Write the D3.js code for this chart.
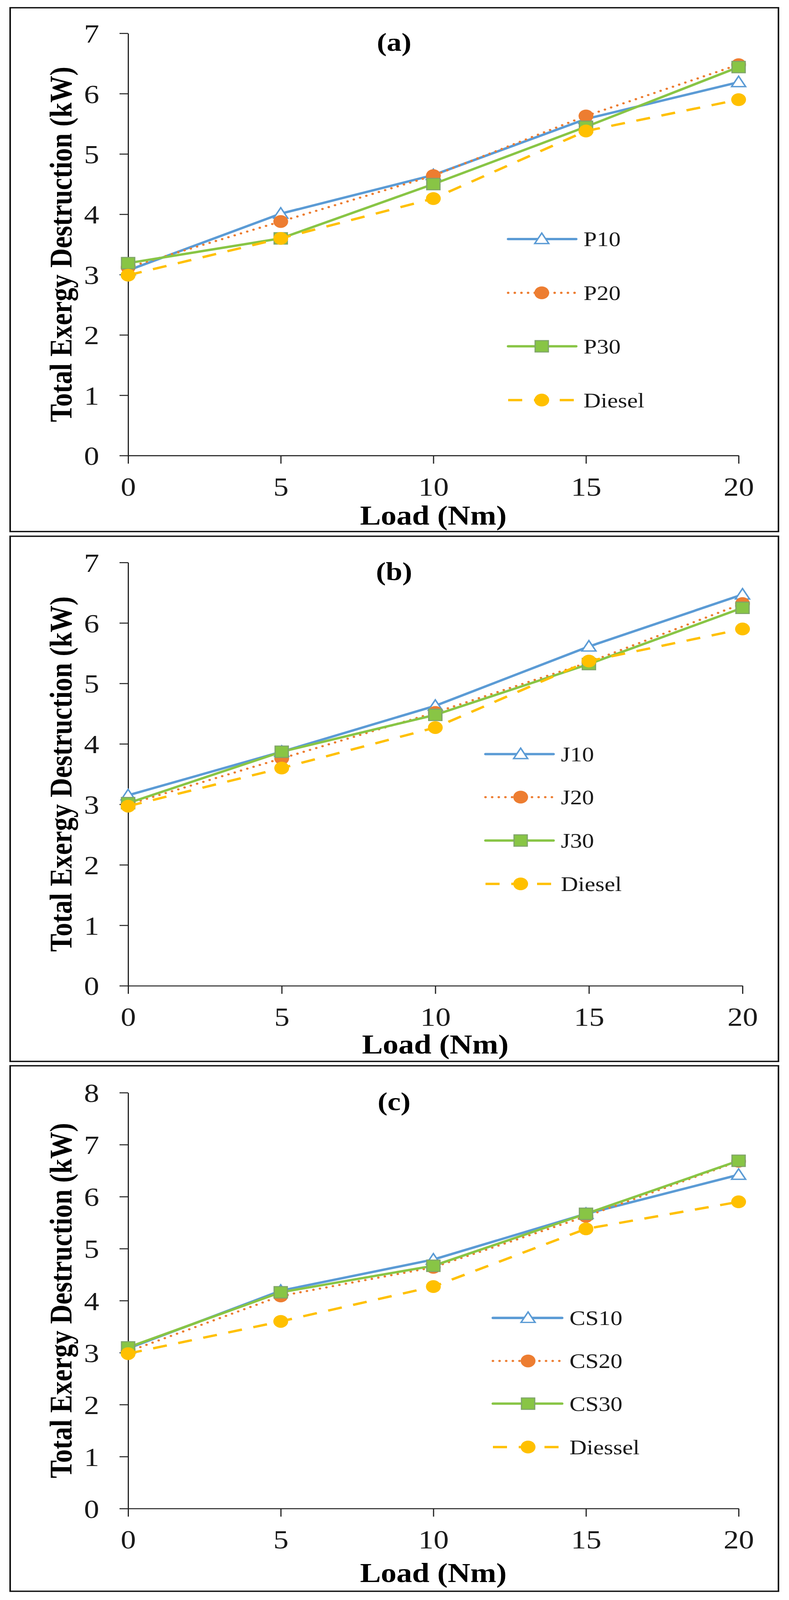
<!DOCTYPE html>
<html>
<head>
<meta charset="utf-8">
<script src="https://cdn.jsdelivr.net/npm/d3@7"></script>
<style>
    html, body { margin: 0; padding: 0; background: #fff; overflow: hidden; }
    svg { display: block; }
</style>
</head>
<body>
<svg id="canvas"></svg>
<script>
// data
const loads = [0, 5, 10, 15, 20];

const namesA = ['P10', 'P20', 'P30', 'Diesel'];
const p10 = [3.07, 4.01, 4.65, 5.58, 6.19];
const p20 = [3.12, 3.88, 4.64, 5.63, 6.48];
const p30 = [3.19, 3.60, 4.50, 5.45, 6.44];
const dieselA = [2.99, 3.60, 4.26, 5.38, 5.90];

const namesB = ['J10', 'J20', 'J30', 'Diesel'];
const j10 = [3.15, 3.87, 4.63, 5.61, 6.47];
const j20 = [3.00, 3.76, 4.52, 5.35, 6.32];
const j30 = [3.02, 3.87, 4.48, 5.32, 6.25];
const dieselB = [2.97, 3.60, 4.27, 5.37, 5.90];

const namesC = ['CS10', 'CS20', 'CS30', 'Diessel'];
const cs10 = [3.08, 4.19, 4.79, 5.67, 6.42];
const cs20 = [3.02, 4.09, 4.64, 5.62, 6.68];
const cs30 = [3.10, 4.16, 4.67, 5.67, 6.69];
const dieselC = [2.98, 3.60, 4.27, 5.38, 5.90];

const yTicksA = [0, 1, 2, 3, 4, 5, 6, 7];
const yTicksC = [0, 1, 2, 3, 4, 5, 6, 7, 8];

// the drawing is laid out on a 2020 x 4759 sheet, then fitted to the window
const width = 2020;
const height = 4759;
const serif = '"Liberation Serif", "Times New Roman", serif';

// one style per series slot (same in every panel)
const styles = [
    { color: '#5B9BD5', dash: null, cap: 'round', marker: 'triangle', w: 7 },
    { color: '#ED7D31', dash: '0,17', cap: 'round', marker: 'circle', w: 6.5 },
    { color: '#88C545', dash: null, cap: 'round', marker: 'square', w: 7 },
    { color: '#FFC000', dash: '36,30', cap: 'butt', marker: 'circle', w: 7 }
];

const panels = [
    {
        label: '(a)', names: namesA, series: [p10, p20, p30, dieselA], yMax: 7, yTicks: yTicksA,
        box: [26, 23, 1993, 1581], left: 328, right: 1891, top: 99, bottom: 1355, titleGap: 177,
        legend: { x1: 1301, x2: 1475, mx: 1387, tx: 1494, rows: [711, 871, 1030, 1190] }
    },
    {
        label: '(b)', names: namesB, series: [j10, j20, j30, dieselB], yMax: 7, yTicks: yTicksA,
        box: [26, 1595, 1993, 3157], left: 328, right: 1901, top: 1673, bottom: 2932, titleGap: 173,
        legend: { x1: 1243, x2: 1417, mx: 1333, tx: 1436, rows: [2243, 2371, 2500, 2629] }
    },
    {
        label: '(c)', names: namesC, series: [cs10, cs20, cs30, dieselC], yMax: 8, yTicks: yTicksC,
        box: [26, 3170, 1993, 4733], left: 328, right: 1891, top: 3250, bottom: 4487, titleGap: 190,
        legend: { x1: 1262, x2: 1439, mx: 1352, tx: 1458, rows: [3920, 4048, 4175, 4304] }
    }
];

const viewW = window.innerWidth || width;
const viewH = Math.min(window.innerHeight || height, height);

const svg = d3.select('#canvas')
    .attr('width', viewW)
    .attr('height', viewH)
    .attr('viewBox', `0 0 ${width} ${height}`)
    .attr('preserveAspectRatio', 'none')
    .style('background-color', '#fff');

svg.append('rect')
    .attr('width', width)
    .attr('height', height)
    .attr('fill', '#fff');

const drawMarker = (g, kind, color, x, y) => {
    if (kind === 'circle') {
        g.append('circle')
            .attr('cx', x).attr('cy', y).attr('r', 19)
            .attr('fill', color);
    } else if (kind === 'square') {
        g.append('rect')
            .attr('x', x - 17).attr('y', y - 17)
            .attr('width', 34).attr('height', 34)
            .attr('fill', color)
            .attr('stroke', '#7FA46A')
            .attr('stroke-width', 3);
    } else {
        const s = d3.symbol().type(d3.symbolTriangle).size(560);
        g.append('path')
            .attr('d', s())
            .attr('transform', `translate(${x},${y + 3})`)
            .attr('fill', '#fff')
            .attr('stroke', color)
            .attr('stroke-width', 4);
    }
}

const drawPanel = (p) => {
    const [bx1, by1, bx2, by2] = p.box;

    svg.append('rect')
        .attr('x', bx1).attr('y', by1)
        .attr('width', bx2 - bx1).attr('height', by2 - by1)
        .attr('fill', 'none')
        .attr('stroke', '#111')
        .attr('stroke-width', 4);

    const xScale = d3.scaleLinear()
        .domain([0, 20])
        .range([p.left, p.right]);

    const yScale = d3.scaleLinear()
        .domain([0, p.yMax])
        .range([p.bottom, p.top]);

    const yAxis = d3.axisLeft(yScale)
        .tickValues(p.yTicks)
        .tickSizeInner(22)
        .tickSizeOuter(0)
        .tickFormat(d3.format('d'));

    const xAxis = d3.axisBottom(xScale)
        .tickValues(loads)
        .tickSizeInner(24)
        .tickSizeOuter(0)
        .tickFormat(d3.format('d'));

    const gy = svg.append('g')
        .attr('transform', `translate(${p.left},0)`)
        .call(yAxis);

    const gx = svg.append('g')
        .attr('transform', `translate(0,${p.bottom})`)
        .call(xAxis);

    [gx, gy].forEach(g => {
        g.selectAll('path, line').attr('stroke', '#222').attr('stroke-width', 3);
        g.selectAll('text')
            .attr('fill', '#1a1a1a')
            .style('font-family', serif)
            .style('font-size', '78px');
    });
    gy.selectAll('text').attr('x', -74).attr('dy', '0.35em');
    gx.selectAll('text').attr('y', 119).attr('dy', 0);

    // axis titles
    svg.append('text')
        .attr('transform', `translate(155,${(p.top + p.bottom) / 2}) rotate(-90)`)
        .attr('text-anchor', 'middle')
        .attr('dy', '0.35em')
        .style('font-family', serif)
        .style('font-size', '80px')
        .style('font-weight', 'bold')
        .text('Total Exergy Destruction (kW)');

    svg.append('text')
        .attr('x', (p.left + p.right) / 2)
        .attr('y', p.bottom + p.titleGap)
        .attr('text-anchor', 'middle')
        .attr('dy', '0.35em')
        .style('font-family', serif)
        .style('font-size', '80px')
        .style('font-weight', 'bold')
        .text('Load (Nm)');

    svg.append('text')
        .attr('x', 1009)
        .attr('y', p.top + 26)
        .attr('text-anchor', 'middle')
        .attr('dy', '0.35em')
        .style('font-family', serif)
        .style('font-size', '76px')
        .style('font-weight', 'bold')
        .text(p.label);

    const line = d3.line()
        .x((d, i) => xScale(loads[i]))
        .y(d => yScale(d));

    p.series.forEach((values, k) => {
        const st = styles[k];
        const g = svg.append('g');

        g.append('path')
            .datum(values)
            .attr('d', line)
            .attr('fill', 'none')
            .attr('stroke', st.color)
            .attr('stroke-width', st.w)
            .attr('stroke-linecap', st.cap)
            .attr('stroke-linejoin', 'round')
            .attr('stroke-dasharray', st.dash);

        values.forEach((v, i) => drawMarker(g, st.marker, st.color, xScale(loads[i]), yScale(v)));

        // legend entry
        const lg = p.legend;
        const ly = lg.rows[k];
        const leg = svg.append('g');
        leg.append('line')
            .attr('x1', lg.x1).attr('x2', lg.x2)
            .attr('y1', ly).attr('y2', ly)
            .attr('stroke', st.color)
            .attr('stroke-width', st.w)
            .attr('stroke-linecap', st.cap)
            .attr('stroke-dasharray', st.dash);
        drawMarker(leg, st.marker, st.color, lg.mx, ly);
        leg.append('text')
            .attr('x', lg.tx)
            .attr('y', ly)
            .attr('dy', '0.35em')
            .attr('fill', '#1a1a1a')
            .style('font-family', serif)
            .style('font-size', '61px')
            .text(p.names[k]);
    });
}

panels.forEach(drawPanel);
</script>
</body>
</html>
